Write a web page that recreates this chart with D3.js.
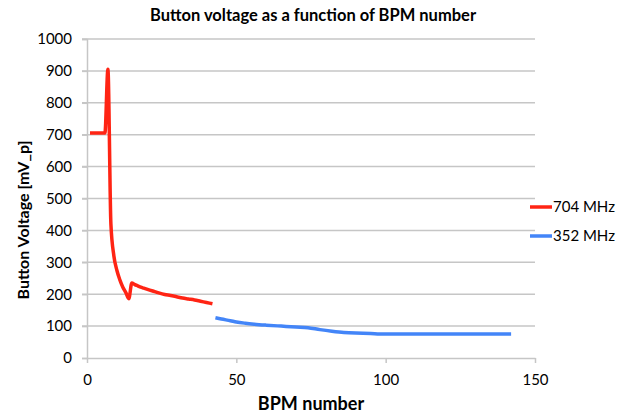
<!DOCTYPE html>
<html>
<head>
<meta charset="utf-8">
<script src="https://cdn.jsdelivr.net/npm/d3@7"></script>
<style>
  body { margin: 0; background: #fff; }
  text { font-family: Lato, "Open Sans", sans-serif; fill: #000; }
</style>
</head>
<body>
<script>
// data
const bpm704 = [1, 2, 3, 4, 5, 6, 7, 8, 9, 10, 11, 12, 13, 14, 15, 16, 17, 18, 19, 20, 22, 24, 26, 28, 30, 32, 34, 36, 38, 40, 42];
const volt704 = [705, 705, 705, 705, 705, 705, 905, 420, 320, 275, 245, 222, 205, 186, 235, 230, 226, 222, 219, 216, 210, 204, 199, 196, 192, 188, 185, 182, 178, 174, 170];
const bpm352 = [43, 45, 48, 50, 53, 56, 60, 65, 70, 74, 78, 82, 86, 90, 95, 98, 100, 110, 120, 130, 142];
const volt352 = [126, 122, 117, 113, 109, 106, 103, 100, 97, 95, 89, 84, 80, 78, 77, 75, 75, 75, 75, 75, 75];
const xTicks = [0, 50, 100, 150];
const yTicks = [0, 100, 200, 300, 400, 500, 600, 700, 800, 900, 1000];
const seriesNames = ["704 MHz", "352 MHz"];

const W = 626, H = 415;
const margin = { top: 39, right: 91, bottom: 57, left: 87 };

const svg = d3.select("body").append("svg")
  .attr("width", W)
  .attr("height", H);

const x = d3.scaleLinear().domain([0, 150]).range([margin.left, W - margin.right]);
const y = d3.scaleLinear().domain([0, 1000]).range([H - margin.bottom, margin.top]);

const series = [
  { name: seriesNames[0], color: "#ff2414", pts: bpm704.map((b, i) => [b, volt704[i]]) },
  { name: seriesNames[1], color: "#4385f8", pts: bpm352.map((b, i) => [b, volt352[i]]) }
];

// grid lines
svg.append("g")
  .selectAll("line")
  .data(yTicks.slice(1))
  .join("line")
  .attr("x1", x(0) - 5)
  .attr("x2", x(150))
  .attr("y1", d => y(d))
  .attr("y2", d => y(d))
  .attr("stroke", "#c6c6c6")
  .attr("stroke-width", 1.5);

// y axis
const yAxis = svg.append("g")
  .attr("transform", "translate(" + x(0) + ",0)")
  .call(d3.axisLeft(y).tickValues(yTicks).tickFormat(d3.format("d")).tickSize(5).tickPadding(10));
yAxis.select(".domain").attr("stroke", "#c6c6c6").attr("stroke-width", 1.5);
yAxis.selectAll(".tick line").attr("stroke", "#c6c6c6").attr("stroke-width", 1.5);
yAxis.selectAll("text").style("font-size", "15px").style("font-family", "Lato, sans-serif").attr("fill", "#000");

// x axis
const xAxis = svg.append("g")
  .attr("transform", "translate(0," + y(0) + ")")
  .call(d3.axisBottom(x).tickValues(xTicks).tickSize(5).tickPadding(11).tickSizeOuter(0));
xAxis.select(".domain").attr("stroke", "#c6c6c6").attr("stroke-width", 1.5);
xAxis.selectAll(".tick line").attr("stroke", "#c6c6c6").attr("stroke-width", 1.5);
xAxis.selectAll("text").style("font-size", "15px").style("font-family", "Lato, sans-serif").attr("fill", "#000");

// lines
const line = d3.line()
  .x(d => x(d[0]))
  .y(d => y(d[1]))
  .curve(d3.curveMonotoneX);

svg.append("g")
  .selectAll("path")
  .data(series)
  .join("path")
  .attr("d", d => line(d.pts))
  .attr("fill", "none")
  .attr("stroke", d => d.color)
  .attr("stroke-width", 3.5)
  .attr("stroke-linejoin", "round");

// legend
const legend = svg.append("g")
  .selectAll("g")
  .data(series)
  .join("g")
  .attr("transform", (d, i) => "translate(530," + (207 + i * 29) + ")");
legend.append("line")
  .attr("x1", 0).attr("x2", 22)
  .attr("stroke", d => d.color)
  .attr("stroke-width", 3.5);
legend.append("text")
  .attr("x", 23)
  .attr("dy", "0.36em")
  .style("font-size", "15px")
  .text(d => d.name);

// titles
svg.append("text")
  .attr("x", 313)
  .attr("y", 21)
  .attr("text-anchor", "middle")
  .style("font-size", "16.5px")
  .style("font-weight", "bold")
  .text("Button voltage as a function of BPM number");

svg.append("text")
  .attr("x", 311)
  .attr("y", 410)
  .attr("text-anchor", "middle")
  .style("font-size", "18px")
  .style("font-weight", "bold")
  .text("BPM number");

svg.append("text")
  .attr("transform", "translate(29,220) rotate(-90)")
  .attr("text-anchor", "middle")
  .style("font-size", "16px")
  .style("font-weight", "bold")
  .text("Button Voltage [mV_p]");
</script>
</body>
</html>
